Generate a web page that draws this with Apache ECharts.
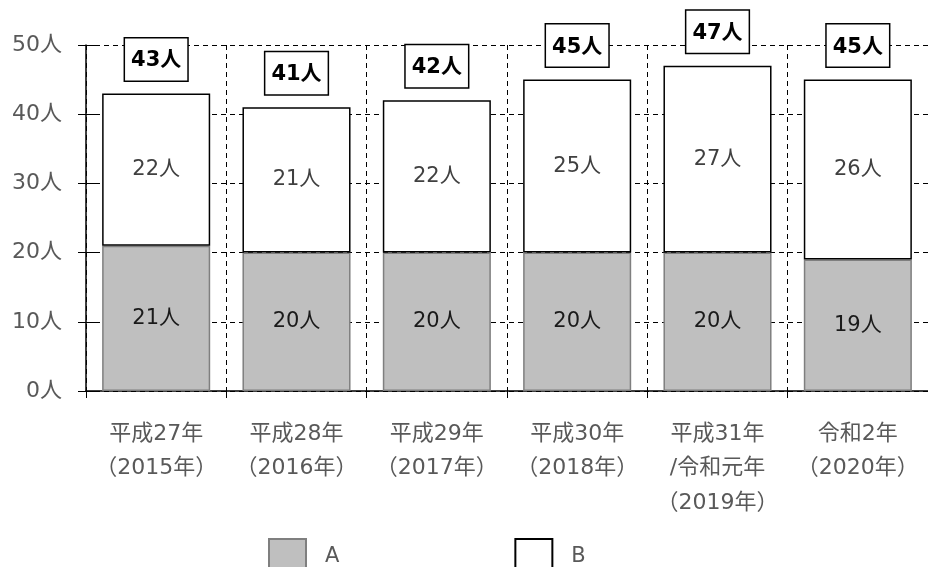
<!DOCTYPE html>
<html>
<head>
<meta charset="utf-8">
<script src="https://cdn.jsdelivr.net/npm/echarts@6/dist/echarts.min.js"></script>
<style>
html,body{margin:0;padding:0;background:#fff;}
#main{width:928px;height:567px;}
</style>
</head>
<body>
<div id="main"></div>
<script>
var categories = ['平成27年\n（2015年）', '平成28年\n（2016年）', '平成29年\n（2017年）', '平成30年\n（2018年）', '平成31年\n/令和元年\n（2019年）', '令和2年\n（2020年）'];
var seriesA = [21, 20, 20, 20, 20, 19];
var seriesB = [22, 21, 22, 25, 27, 26];
var yTicks = [0, 10, 20, 30, 40, 50];

var totals = seriesA.map(function (v, i) { return v + seriesB[i]; });
var FONT = "'DejaVu Sans', 'Noto Sans CJK JP', sans-serif";

var chart = echarts.init(document.getElementById('main'), null, {renderer: 'canvas'});
chart.setOption({
  animation: false,
  backgroundColor: '#ffffff',
  textStyle: {fontFamily: FONT},
  grid: {left: 86, right: -7, top: 45, bottom: 176, containLabel: false},
  legend: {
    data: ['A', 'B'],
    top: 533, left: 263,
    icon: 'rect',
    itemWidth: 37, itemHeight: 36, itemGap: 175,
    textStyle: {fontFamily: FONT, fontSize: 21, color: '#595959', padding: [0, 0, 0, 14]},
    selectedMode: false
  },
  xAxis: {
    type: 'category',
    data: categories,
    boundaryGap: true,
    axisLine: {lineStyle: {color: '#000', width: 1.5}},
    axisTick: {show: true, length: 7, lineStyle: {color: '#000', width: 1}},
    axisLabel: {fontFamily: FONT, fontSize: 22, color: '#595959', lineHeight: 34.5, margin: 26, interval: 0},
    splitLine: {show: true, lineStyle: {color: '#000', type: [5, 4], width: 1}}
  },
  yAxis: [{
    type: 'value',
    min: 0, max: 50, interval: 10,
    axisLine: {show: true, lineStyle: {color: '#000', width: 1.5}},
    axisTick: {show: true, length: 8, lineStyle: {color: '#000'}},
    axisLabel: {fontFamily: FONT, fontSize: 22, color: '#595959', margin: 24,
      formatter: function (v) { return yTicks.indexOf(v) >= 0 ? v + '人' : ''; }},
    splitLine: {show: true, lineStyle: {color: '#000', type: [5, 4], width: 1}}
  }, {
    type: 'value', position: 'left',
    min: 0, max: 50, interval: 10,
    axisLine: {show: false},
    axisTick: {show: true, inside: true, length: 12, lineStyle: {color: '#000'}},
    axisLabel: {show: false},
    splitLine: {show: false}
  }],
  series: [{
    name: 'A', type: 'bar', stack: 'total', barWidth: '77%',
    data: seriesA,
    itemStyle: {color: '#bfbfbf', borderColor: '#7f7f7f', borderWidth: 1.5},
    label: {show: true, position: 'inside', fontFamily: FONT, fontSize: 21, color: '#1a1a1a',
      formatter: function (p) { return p.value + '人'; }}
  }, {
    name: 'B', type: 'bar', stack: 'total', barWidth: '77%',
    data: seriesB,
    itemStyle: {color: '#ffffff', borderColor: '#000000', borderWidth: 1.5},
    label: {show: true, position: 'inside', fontFamily: FONT, fontSize: 21, color: '#404040',
      formatter: function (p) { return p.value + '人'; }}
  }, {
    name: 'total', type: 'bar', barWidth: '77%', barGap: '-100%',
    data: totals, silent: true, z: 5,
    itemStyle: {color: 'rgba(0,0,0,0)', borderWidth: 0},
    label: {show: true, position: 'top', distance: 13,
      fontFamily: FONT, fontSize: 21, fontWeight: 'bold', color: '#000',
      backgroundColor: '#fff', borderColor: '#000', borderWidth: 1.5,
      padding: [12, 6, 9, 6],
      formatter: function (p) { return p.value + '人'; }}
  }]
});
</script>
</body>
</html>
